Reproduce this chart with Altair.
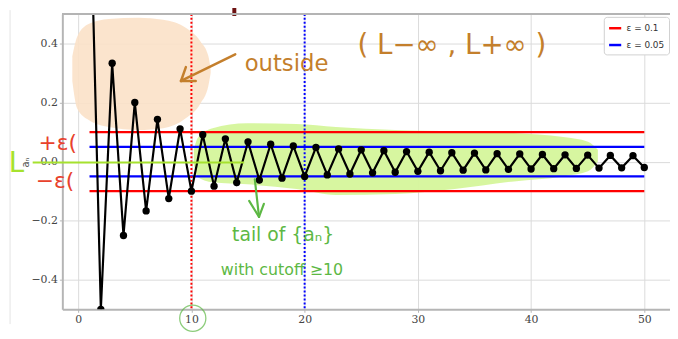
import altair as alt
import pandas as pd

# ---- data ----
n_vals = list(range(1, 51))
a_vals = [1.0, -0.5, 0.333, -0.25, 0.2, -0.167, 0.143, -0.125, 0.111, -0.1,
          0.091, -0.083, 0.077, -0.071, 0.067, -0.0625, 0.059, -0.056, 0.053, -0.05,
          0.048, -0.045, 0.043, -0.042, 0.04, -0.038, 0.037, -0.036, 0.034, -0.033,
          0.032, -0.031, 0.03, -0.029, 0.029, -0.028, 0.027, -0.026, 0.026, -0.025,
          0.024, -0.024, 0.023, -0.023, 0.022, -0.022, 0.021, -0.021, 0.02, -0.02]
eps_vals = [0.1, 0.05]
eps_labels = ["ε = 0.1", "ε = 0.05"]
eps_colors = ["#ff0000", "#0000ff"]
band_start = [1, 1]
band_end = [50, 50]
cutoffs = [10, 20]
cutoff_colors = ["#ff0000", "#0000ff"]
x_ticks = [0, 10, 20, 30, 40, 50]
y_ticks = [-0.4, -0.2, 0.0, 0.2, 0.4]

# hand-drawn annotation shapes (data coordinates)
orange_blob_x = [-0.52, -0.09, 0.96, 2.7, 5.32, 7.5, 9.5, 10.8, 11.5, 11.7]
orange_blob_top = [0.357, 0.423, 0.467, 0.483, 0.487, 0.48, 0.453, 0.407, 0.357, 0.313]
orange_blob_bot = [0.273, 0.18, 0.14, 0.117, 0.107, 0.113, 0.147, 0.197, 0.257, 0.3]

green_blob_x = [10.21, 10.56, 11.87, 14.92, 19.28, 22.77, 28.01, 33.25, 38.48, 42.84, 45.03, 45.9]
green_blob_top = [0.04, 0.08, 0.113, 0.13, 0.127, 0.117, 0.107, 0.103, 0.097, 0.083, 0.067, 0.04]
green_blob_bot = [-0.01, -0.053, -0.07, -0.077, -0.093, -0.113, -0.11, -0.093, -0.067, -0.05, -0.033, 0.0]

orange_arrow_x = [13.87, 9.08, 9.51, 9.08, 10.38]
orange_arrow_y = [0.363, 0.273, 0.32, 0.273, 0.273]

green_arrow_x = [15.6, 15.97, 15.1, 15.97, 16.4]
green_arrow_y = [-0.06, -0.187, -0.133, -0.187, -0.143]

W, H = 615, 299
xs = alt.Scale(domain=[-1.4, 52.27], nice=False, zero=False)
ys = alt.Scale(domain=[-0.5, 0.5], nice=False, zero=False)

seq = pd.DataFrame({"n": n_vals, "a": a_vals})
bands = pd.DataFrame({
    "y": [v for v in eps_vals] + [-v for v in eps_vals],
    "x": band_start * 2, "x2": band_end * 2,
    "label": eps_labels * 2,
})
vlines = pd.DataFrame({"x": cutoffs, "c": cutoff_colors})


def ob_rows(xx, top, bot):
    return pd.DataFrame({"x": xx, "top": top, "bot": bot})


def seg_rows(xx, yy):
    rows = [
        {"x": xx[0], "y": yy[0], "s": "a", "o": 0},
        {"x": xx[1], "y": yy[1], "s": "a", "o": 1},
        {"x": xx[2], "y": yy[2], "s": "b", "o": 0},
        {"x": xx[3], "y": yy[3], "s": "b", "o": 1},
        {"x": xx[3], "y": yy[3], "s": "c", "o": 0},
        {"x": xx[4], "y": yy[4], "s": "c", "o": 1},
    ]
    return pd.DataFrame(rows)


xaxis = alt.Axis(values=x_ticks, format="d", grid=True, gridColor="#dadada", gridWidth=1,
                 domainColor="#b5b5b5", domainWidth=2, tickColor="#b5b5b5", tickSize=3,
                 labelFont="DejaVu Serif", labelFontSize=11, labelColor="#444444",
                 labelPadding=1, title=None)
yaxis = alt.Axis(values=y_ticks, format=".1f", grid=True, gridColor="#dadada", gridWidth=1,
                 domainColor="#b5b5b5", domainWidth=2, tickColor="#b5b5b5", tickSize=3,
                 labelFont="DejaVu Serif", labelFontSize=11, labelColor="#444444",
                 labelPadding=2, title="aₙ", titleFont="DejaVu Sans", titleFontSize=10,
                 titleFontWeight="normal", titleColor="#555555", titleX=-32, titleY=150)


def X(f):
    return alt.X(f, scale=xs, axis=xaxis)


def Y(f):
    return alt.Y(f, scale=ys, axis=yaxis)


top_border = alt.Chart(seq).mark_rule(color="#b5b5b5", strokeWidth=1.5).encode(
    x=alt.value(0), x2=alt.value(W), y=alt.value(0))

screen_line = alt.Chart(pd.DataFrame({"x": [-6.02], "y": [0.513], "y2": [-0.55]})).mark_rule(
    color="#e4e4e4", strokeWidth=1).encode(x=X("x:Q"), y=Y("y:Q"), y2="y2:Q")

orange_blob = alt.Chart(ob_rows(orange_blob_x, orange_blob_top, orange_blob_bot)).mark_area(
    color="#fbe1c8", opacity=0.9, interpolate="monotone").encode(
    x=X("x:Q"), y=Y("top:Q"), y2="bot:Q")

green_blob = alt.Chart(ob_rows(green_blob_x, green_blob_top, green_blob_bot)).mark_area(
    color="#d5f69b", opacity=0.95, interpolate="monotone").encode(
    x=X("x:Q"), y=Y("top:Q"), y2="bot:Q")

band_lines = alt.Chart(bands).mark_rule(strokeWidth=2.2).encode(
    x=X("x:Q"), x2="x2:Q", y=Y("y:Q"),
    color=alt.Color("label:N", scale=alt.Scale(domain=eps_labels, range=eps_colors),
                    legend=alt.Legend(title=None, orient="none", legendX=548, legendY=3,
                                      fillColor="white", strokeColor="#d0d0d0",
                                      cornerRadius=3, padding=4, symbolType="stroke",
                                      symbolStrokeWidth=2.5, symbolSize=150,
                                      labelFont="DejaVu Sans", labelFontSize=9,
                                      labelColor="#333333", rowPadding=4)),
)

vline_layer = alt.Chart(vlines).mark_rule(strokeWidth=2, strokeDash=[2, 2]).encode(
    x=X("x:Q"),
    color=alt.Color("c:N", scale=None, legend=None),
)

seq_line = alt.Chart(seq).mark_line(color="black", strokeWidth=2.2, clip=True).encode(
    x=X("n:Q"), y=Y("a:Q"))
seq_pts = alt.Chart(seq).mark_circle(color="black", size=55, opacity=1, clip=True).encode(
    x=X("n:Q"), y=Y("a:Q"))

green_L_line = alt.Chart(pd.DataFrame({"x": [-4.02], "x2": [14.66], "y": [-0.003]})).mark_rule(
    color="#a6e22e", strokeWidth=2.2).encode(x=X("x:Q"), x2="x2:Q", y=Y("y:Q"))

orange_arrow = alt.Chart(seg_rows(orange_arrow_x, orange_arrow_y)).mark_line(
    color="#c47f2c", strokeWidth=2.5, strokeCap="round").encode(
    x=X("x:Q"), y=Y("y:Q"), detail="s:N", order="o:Q")

green_arrow = alt.Chart(seg_rows(green_arrow_x, green_arrow_y)).mark_line(
    color="#5db844", strokeWidth=2.2, strokeCap="round").encode(
    x=X("x:Q"), y=Y("y:Q"), detail="s:N", order="o:Q")

texts = pd.DataFrame({
    "x": [18.4, 33.0, -1.8, -2.05, -5.45, 18.1, 18.0],
    "y": [0.33, 0.39, 0.062, -0.066, -0.01, -0.247, -0.367],
    "t": ["outside", "( L−∞ ,  L+∞ )", "+ε(", "−ε(", "L", "tail  of  {aₙ}", "with cutoff ≥10"],
    "c": ["#c47f2c", "#c47f2c", "#e8412c", "#e8412c", "#a6e22e", "#5db844", "#5db844"],
    "s": [23, 28, 22, 22, 28, 19, 16],
})
text_layer = alt.Chart(texts).mark_text(font="DejaVu Sans", fontWeight="normal",
                                         align="center", baseline="middle").encode(
    x=X("x:Q"), y=Y("y:Q"),
    text="t:N", color=alt.Color("c:N", scale=None, legend=None),
    size=alt.Size("s:Q", scale=None, legend=None),
)

circle10 = alt.Chart(pd.DataFrame({"x": [10.12], "y": [-0.53]})).mark_point(
    shape="circle", size=700, filled=False, color="#5db844", strokeWidth=1.3).encode(
    x=X("x:Q"), y=Y("y:Q"))

top_stroke = alt.Chart(pd.DataFrame({"x": [13.79], "y": [0.53], "y2": [0.493]})).mark_rule(
    color="#6d1212", strokeWidth=4).encode(x=X("x:Q"), y=Y("y:Q"), y2="y2:Q")

chart = alt.layer(
    screen_line, orange_blob, green_blob, band_lines, vline_layer,
    seq_line, seq_pts, green_L_line, orange_arrow, green_arrow, text_layer,
    circle10, top_stroke, top_border,
).resolve_scale(color="independent").properties(
    width=W, height=H,
    autosize=alt.AutoSizeParams(type="none"),
    padding={"left": 55, "top": 4, "right": 0, "bottom": 24},
).configure_view(stroke=None)

chart.save("out.html", embed_options={"renderer": "svg", "actions": False})
